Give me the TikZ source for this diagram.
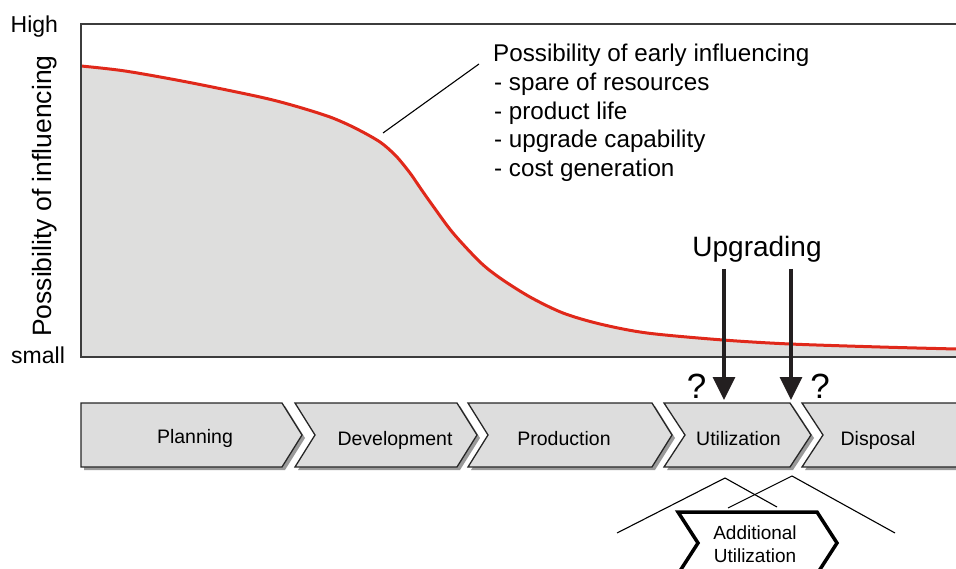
\documentclass[tikz,border=0pt]{standalone}
\usepackage{fontspec}
\setmainfont{Liberation Sans}
\usetikzlibrary{arrows.meta}
\definecolor{plotgray}{HTML}{DEDEDD}
\definecolor{chevgray}{HTML}{DDDDDD}
\definecolor{shadowgray}{HTML}{9A9A9A}
\definecolor{curvered}{HTML}{E0281A}
\definecolor{framegray}{HTML}{3C3C3C}
\definecolor{arrowblack}{HTML}{231F20}
\begin{document}
\begin{tikzpicture}[x=1pt,y=-1pt,
  txt/.style={inner sep=0pt, anchor=base west},
  ctxt/.style={inner sep=0pt, anchor=base},
  chevshape/.style={fill=chevgray, draw=black!85, line width=1.3pt, line join=miter},
  chevshadow/.style={fill=shadowgray},
  upar/.style={arrowblack, line width=3.5pt, -{Triangle[length=23pt,width=22pt]}},
  thinline/.style={black, line width=1.1pt}]
\useasboundingbox (0,0) rectangle (956,569);
\clip (0,0) rectangle (956,569);

\def\curvepts{(81,66) (125,71) (187,82) (260,97) (295,106) (330,117) (355,128) (380,142) (396,156) (410,173) (421,189) (433,206) (453,233) (480,262) (500,278) (530,297) (563,313) (600,324) (647,333) (723,340) (790,344) (880,347) (956,349)}
% plot area
\fill[plotgray] plot[smooth, tension=0.5] coordinates {\curvepts} -- (962,349) -- (962,357) -- (81,357) -- cycle;
\draw[curvered, line width=3pt] plot[smooth, tension=0.5] coordinates {\curvepts};
\draw[framegray, line width=1.5pt] (962,24) -- (81,24) -- (81,357) -- (962,357);

% axis labels
\node[txt, font=\fontsize{23}{27}\selectfont] (high) at (10.5,33) {High};
\node[txt, font=\fontsize{23}{27}\selectfont] (small) at (11,363) {small};
\node[txt, rotate=90, font=\fontsize{26.5}{30}\selectfont] (ylab) at (51,337) {Possibility of influencing};

% annotation
\node[txt, font=\fontsize{24.2}{28}\selectfont] (t1) at (493,62) {Possibility of early influencing};
\node[txt, font=\fontsize{24.2}{28}\selectfont] (t2) at (494,91) {- spare of resources};
\node[txt, font=\fontsize{24.2}{28}\selectfont] (t3) at (494,119.5) {- product life};
\node[txt, font=\fontsize{24.2}{28}\selectfont] (t4) at (494,148) {- upgrade capability};
\node[txt, font=\fontsize{24.2}{28}\selectfont] (t5) at (494,177) {- cost generation};
\coordinate (lp) at (383,133);
\coordinate (lq) at (479,64);
\draw[black, line width=1.1pt] (lp) -- (lq);

% upgrading
\node[ctxt, font=\fontsize{28}{32}\selectfont] (upg) at (757,257) {Upgrading};
\coordinate (a1s) at (724,269);
\coordinate (a1e) at (724,400);
\coordinate (a2s) at (791,269);
\coordinate (a2e) at (791,400);
\draw[upar] (a1s) -- (a1e);
\draw[upar] (a2s) -- (a2e);
\node[ctxt, font=\fontsize{35}{38}\selectfont] (q1) at (696.5,398) {?};
\node[ctxt, font=\fontsize{35}{38}\selectfont] (q2) at (820,398) {?};

% chevrons
\fill[chevshadow, shift={(3,3)}] (81,403)--(282,403)--(302,435)--(282,467)--(81,467)--cycle;
\draw[chevshape] (81,403)--(282,403)--(302,435)--(282,467)--(81,467)--cycle;
\fill[chevshadow, shift={(3,3)}] (295,403)--(457,403)--(477,435)--(457,467)--(295,467)--(315,435)--cycle;
\draw[chevshape] (295,403)--(457,403)--(477,435)--(457,467)--(295,467)--(315,435)--cycle;
\fill[chevshadow, shift={(3,3)}] (468,403)--(652,403)--(672,435)--(652,467)--(468,467)--(488,435)--cycle;
\draw[chevshape] (468,403)--(652,403)--(672,435)--(652,467)--(468,467)--(488,435)--cycle;
\fill[chevshadow, shift={(3,3)}] (664,403)--(790,403)--(811,435)--(790,467)--(664,467)--(685,435)--cycle;
\draw[chevshape] (664,403)--(790,403)--(811,435)--(790,467)--(664,467)--(685,435)--cycle;
\fill[chevshadow, shift={(3,3)}] (802,403)--(965,403)--(965,467)--(802,467)--(823,435)--cycle;
\draw[chevshape] (802,403)--(965,403)--(965,467)--(802,467)--(823,435)--cycle;

\node[ctxt, font=\fontsize{19.5}{23}\selectfont] (plan) at (195,443) {Planning};
\node[ctxt, font=\fontsize{19.5}{23}\selectfont] (dev) at (395,445) {Development};
\node[ctxt, font=\fontsize{19.5}{23}\selectfont] (prod) at (564,445) {Production};
\node[ctxt, font=\fontsize{19.5}{23}\selectfont] (util) at (738.5,445) {Utilization};
\node[ctxt, font=\fontsize{19.5}{23}\selectfont] (disp) at (878,445) {Disposal};

% additional utilization
\coordinate (la1) at (617,533);
\coordinate (la2) at (725,478);
\coordinate (la3) at (777,507);
\coordinate (lb1) at (728,508);
\coordinate (lb2) at (792,476);
\coordinate (lb3) at (895,533);
\draw[thinline] (la1) -- (la2) -- (la3);
\draw[thinline] (lb1) -- (lb2) -- (lb3);
\draw[black, line width=3.5pt, fill=white, line join=miter] (678,512)--(817,512)--(837,543)--(817,574)--(678,574)--(698,543)--cycle;
\node[ctxt, font=\fontsize{19}{23}\selectfont] (au1) at (755,539) {Additional};
\node[ctxt, font=\fontsize{19}{23}\selectfont] (au2) at (755,562) {Utilization};
\end{tikzpicture}
\end{document}
